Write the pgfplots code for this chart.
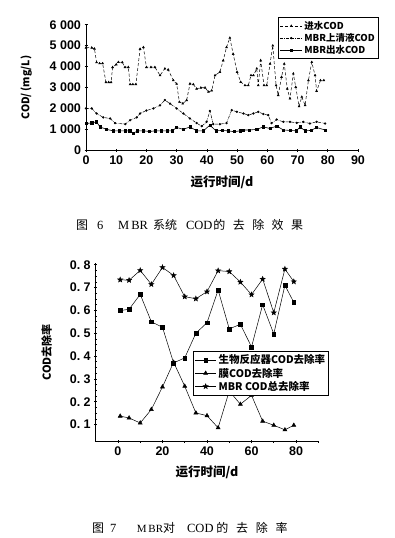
\documentclass[border=0pt]{standalone}
\usepackage{fontspec}
\setmainfont{Liberation Sans}
\newfontfamily\cjk{Noto Sans CJK SC}
\newfontfamily\tnr{Liberation Serif}
\usepackage{pgfplots}
\pgfplotsset{compat=1.18}
\pgfdeclareplotmark{fstar}{%
 \pgfpathmoveto{\pgfpointpolar{90}{\pgfplotmarksize}}%
 \pgfpathlineto{\pgfpointpolar{126}{0.42\pgfplotmarksize}}%
 \pgfpathlineto{\pgfpointpolar{162}{\pgfplotmarksize}}%
 \pgfpathlineto{\pgfpointpolar{198}{0.42\pgfplotmarksize}}%
 \pgfpathlineto{\pgfpointpolar{234}{\pgfplotmarksize}}%
 \pgfpathlineto{\pgfpointpolar{270}{0.42\pgfplotmarksize}}%
 \pgfpathlineto{\pgfpointpolar{306}{\pgfplotmarksize}}%
 \pgfpathlineto{\pgfpointpolar{342}{0.42\pgfplotmarksize}}%
 \pgfpathlineto{\pgfpointpolar{18}{\pgfplotmarksize}}%
 \pgfpathlineto{\pgfpointpolar{54}{0.42\pgfplotmarksize}}%
 \pgfpathclose\pgfusepathqfillstroke}

\pgfplotstableread{
x y
0 4900
1.9 4900
2.8 4850
3.5 4200
4.5 4150
5.5 4150
6.6 3250
7.5 3250
8.3 3250
8.8 3970
10 4100
10.7 4210
12 4200
12.9 3970
14 3970
14.6 3150
15.5 3150
16.5 3150
17.9 4840
19 4920
20 3970
21.5 3970
22.8 3970
24.5 3580
26.1 3900
27.2 3850
28.9 3340
30 3170
30.9 2310
32 2230
33.3 2390
34.4 3180
35.5 3150
36.6 2940
38 2990
39.4 2990
40.5 2790
41.6 2850
42.7 3580
44.3 3740
45.4 4290
46.5 4920
47.6 5370
48.7 4600
50 3740
51.2 3260
52.6 3100
53.7 3100
54.6 3580
55.4 3580
56.5 3900
57 3100
57.8 4290
58.9 3100
59.8 3100
60.9 4130
61.8 5000
62.9 3100
63.6 2630
64.7 3500
65.6 4130
66.6 2940
67.5 2470
68.6 3660
69.4 3020
70.5 2100
71.4 2550
72.5 2150
73.6 3340
74.7 4210
75.8 3580
76.3 2830
77.6 3340
78.7 3340
}\influent

\pgfplotstableread{
x y
0 2000
1.9 2000
3.5 1760
5.7 1570
8 1520
9.6 1300
13 1250
14.6 1440
16.8 1570
17.9 1760
20 1900
22.3 2000
24.5 2150
26.1 2400
27.8 2230
30 2000
32.2 1760
34.4 1520
36.6 1300
38.3 1150
39.9 1360
41 1880
42.1 1250
44.3 1250
46.5 1300
48.2 1920
49.9 1840
52.1 1760
53.7 1680
55.4 1760
57 1840
58.7 1730
60.3 1680
61.4 1300
63.1 1470
65.3 1360
67.5 1360
69.7 1310
71.9 1360
74.1 1280
76.3 1360
79.1 1280
}\superna

\pgfplotstableread{
x y
0 1280
1.9 1310
3.5 1360
4.6 1120
6.8 1000
9 930
11 930
13 930
14.5 930
15.7 810
17 930
19 930
21 900
23 930
25 930
27 930
28.5 930
30 1090
32.2 1000
34.4 1120
36.6 930
38.8 930
41 1200
43 930
45 950
47 930
49 890
51 930
52.1 970
54 970
56.5 1000
58.7 1120
60.9 1040
63.1 1160
65.3 970
67.5 950
69.7 930
70.8 1120
72.5 930
74.5 950
76.3 1090
79.1 970
}\effluent

\pgfplotstableread{
x bio mem tot
1 0.599 0.137 0.734
5 0.605 0.129 0.732
10 0.670 0.107 0.775
15 0.550 0.166 0.714
20 0.526 0.265 0.788
25 0.370 0.373 0.753
30 0.392 0.268 0.660
35 0.500 0.151 0.651
40 0.546 0.139 0.682
45 0.689 0.086 0.774
50 0.519 0.247 0.770
55 0.539 0.189 0.724
60 0.440 0.228 0.669
65 0.625 0.115 0.737
70 0.497 0.097 0.590
75 0.710 0.077 0.781
79 0.635 0.097 0.726
}\removal

\begin{document}
\begin{tikzpicture}
\path[use as bounding box] (0pt,0pt) rectangle (394pt,-538pt);
\pgfplotsset{
  every axis/.append style={
    scale only axis, axis lines=left,
    axis line style={-, line width=0.8pt},
    tick style={black, line width=0.6pt},
    major tick length=3pt, minor tick length=2pt,
    /pgf/number format/assume math mode=true,
    tick label style={font=\fontsize{12.5}{12.5}\selectfont\bfseries},
    label style={font=\cjk\bfseries\fontsize{12.5}{13}\selectfont},
    legend cell align=left,
    legend image code/.code={\draw[mark repeat=2,mark phase=2,##1] plot coordinates {(0cm,0cm) (0.38cm,0cm) (0.76cm,0cm)};},
  }
}
% ---------- Figure 6 ----------
\begin{axis}[
  at={(86pt,-150.3pt)}, anchor=south west,
  width=272pt, height=125.6pt,
  xmin=0, xmax=90, ymin=0, ymax=6000,
  xtick={0,10,...,90}, ytick={0,1000,...,6000},
  yticklabels={0,1 000,2 000,3 000,4 000,5 000,6 000},
  xlabel={运行时间/d},
  ylabel={COD/\,(mg/L)},
  ylabel style={font=\cjk\bfseries\fontsize{10.5}{11}\selectfont},
  xlabel style={at={(axis description cs:0.5,-0.258)}, anchor=center},
  ylabel style={at={(axis description cs:-0.22,0.5)}, anchor=center},
  legend style={at={(0.707,1.059)}, anchor=north west, draw=black, line width=0.7pt,
    font=\cjk\bfseries\fontsize{9.5}{10}\selectfont, inner sep=1.5pt, row sep=-1.5pt},
]
\addplot[black, line width=0.5pt, densely dashed, mark=triangle*, mark size=1.1pt, mark options={solid}] table[x=x,y=y] {\influent};
\addlegendentry{进水COD}
\addplot[black, line width=0.5pt, densely dashdotted, mark=*, mark size=0.9pt, mark options={solid}] table[x=x,y=y] {\superna};
\addlegendentry{MBR上清液COD}
\addplot[black, line width=0.6pt, mark=square*, mark size=1.1pt] table[x=x,y=y] {\effluent};
\addlegendentry{MBR出水COD}
\end{axis}
\node[anchor=west, inner sep=0pt] at (76pt,-225pt) {\fontsize{12.5}{12.5}\selectfont{\cjk\fontsize{12}{12}\selectfont 图}\hspace{9pt}{\tnr 6}\hspace{14.75pt}{\tnr M\,BR}\hspace{5pt}{\cjk\fontsize{12}{12}\selectfont 系统}\hspace{9pt}{\tnr COD}\hspace{1pt}{\cjk\fontsize{12}{12}\selectfont 的\hspace{7.4pt}去\hspace{7.4pt}除\hspace{7.4pt}效\hspace{7.4pt}果}};
% ---------- Figure 7 ----------
\begin{axis}[
  at={(95.7pt,-441.7pt)}, anchor=south west,
  width=222.6pt, height=178.6pt,
  xmin=-10, xmax=90, ymin=0.025, ymax=0.807,
  xtick={0,20,...,80}, minor xtick={10,30,50,70,90},
  ytick={0.1,0.2,...,0.8}, minor y tick num=3,
  yticklabels={0.\ 1,0.\ 2,0.\ 3,0.\ 4,0.\ 5,0.\ 6,0.\ 7,0.\ 8},
  xlabel={运行时间/d},
  ylabel={COD去除率},
  ylabel style={font=\cjk\bfseries\fontsize{11}{11}\selectfont},
  xlabel style={at={(axis description cs:0.5,-0.174)}, anchor=center},
  ylabel style={at={(axis description cs:-0.22,0.5)}, anchor=center},
  legend style={at={(0.436,0.508)}, anchor=north west, draw=black, line width=0.7pt,
    font=\cjk\bfseries\fontsize{10.5}{11}\selectfont, inner sep=1.5pt, row sep=-1.5pt},
]
\addplot[black, line width=0.5pt, mark=square*, mark size=1.9pt] table[x=x,y=bio] {\removal};
\addlegendentry{生物反应器COD去除率}
\addplot[black, line width=0.5pt, mark=triangle*, mark size=2.3pt] table[x=x,y=mem] {\removal};
\addlegendentry{膜COD去除率}
\addplot[black, line width=0.5pt, mark=fstar, mark size=2.6pt] table[x=x,y=tot] {\removal};
\addlegendentry{MBR COD总去除率}
\end{axis}
\node[anchor=west, inner sep=0pt] at (92pt,-528pt) {\fontsize{12.5}{12.5}\selectfont{\cjk\fontsize{12}{12}\selectfont 图}\hspace{6pt}{\tnr 7}\hspace{20.4pt}{\tnr\fontsize{11}{11}\selectfont M\,BR}{\cjk\fontsize{12}{12}\selectfont 对}\hspace{12pt}{\tnr COD}\hspace{2.9pt}{\cjk\fontsize{12}{12}\selectfont 的\hspace{7.7pt}去\hspace{7.7pt}除\hspace{7.7pt}率}};
\end{tikzpicture}
\end{document}
